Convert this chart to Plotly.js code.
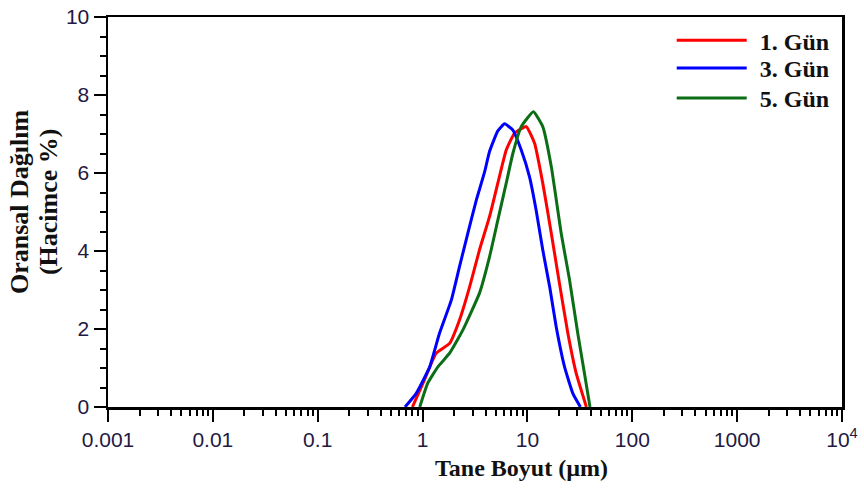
<!DOCTYPE html>
<html>
<head>
<meta charset="utf-8">
<script src="https://cdn.plot.ly/plotly-3.0.1.min.js"></script>
<style>html,body{margin:0;padding:0;background:#fff;}#chart{width:864px;height:492px;}</style>
</head>
<body>
<div id="chart"></div>
<script>
// Particle size (µm) and volume distribution (%) per day
const seriesNames = ['1. Gün', '3. Gün', '5. Gün'];

const day1Size = [0.80, 1.01, 1.35, 1.81, 2.25, 2.81, 3.49, 4.35, 5.22, 6.28, 7.54, 9.74, 11.7, 14.0, 16.9, 20.2, 24.3, 29.2, 36.5];
const day1Vol  = [0, 0.61, 1.38, 1.63, 2.23, 3.08, 4.03, 4.88, 5.74, 6.59, 7.02, 7.19, 6.76, 5.74, 4.45, 3.17, 1.89, 0.86, 0];

const day3Size = [0.68, 0.87, 1.17, 1.45, 1.88, 2.25, 2.70, 3.25, 3.90, 4.35, 5.22, 6.05, 7.26, 8.73, 10.47, 12.1, 14.0, 16.3, 18.8, 22.6, 27.1, 32.0];
const day3Vol  = [0, 0.35, 1.03, 1.89, 2.74, 3.60, 4.45, 5.30, 6.02, 6.55, 7.08, 7.26, 7.10, 6.59, 5.90, 5.05, 4.03, 3.08, 2.06, 1.03, 0.35, 0];

const day5Size = [0.94, 1.12, 1.40, 1.81, 2.42, 3.49, 4.35, 5.22, 6.28, 7.26, 8.73, 11.4, 14.0, 16.9, 21.0, 25.2, 30.2, 35.0, 39.5];
const day5Vol  = [0, 0.61, 1.03, 1.38, 1.97, 2.92, 3.85, 4.79, 5.74, 6.50, 7.19, 7.57, 7.19, 6.16, 4.45, 3.26, 1.89, 0.86, 0];

const xTickVals = [0.001, 0.01, 0.1, 1, 10, 100, 1000, 10000];
const xTickText = ['0.001', '0.01', '0.1', '1', '10', '100', '1000', '10<sup>4</sup>'];
const yTickVals = [0, 2, 4, 6, 8, 10];

const colors = ['#ff0000', '#0000ff', '#0b6e16'];
const legendIds = ['legend', 'legend2', 'legend3'];
const legendY = [0.9392, 0.8685, 0.7915];
const tickColor = '#231942';
const serif = '"Liberation Serif", "Times New Roman", serif';
const titleFont = {family: serif, size: 26, color: '#111111'};

function mk(x, y, i) {
  return {x: x, y: y, name: '<b>' + seriesNames[i] + '</b>', type: 'scatter', mode: 'lines',
          legend: legendIds[i],
          line: {color: colors[i], width: 3, shape: 'spline', smoothing: 0.4}};
}

const traces = [mk(day1Size, day1Vol, 0), mk(day3Size, day3Vol, 1), mk(day5Size, day5Vol, 2)];

const axisCommon = {
  showline: true, linecolor: '#000', linewidth: 2.5, mirror: true,
  ticks: 'outside', ticklen: 12, tickwidth: 2, tickcolor: '#000',
  showgrid: false, zeroline: false,
  tickfont: {family: '"Liberation Sans", Arial, sans-serif', size: 21, color: tickColor}
};

function legendCfg(i) {
  return {x: 0.768, xanchor: 'left', y: legendY[i], yanchor: 'middle', bgcolor: 'rgba(0,0,0,0)',
          itemwidth: 78, font: {family: serif, size: 24, color: '#111'}};
}

const layout = {
  width: 864, height: 492,
  margin: {l: 108, r: 22, t: 17, b: 85},
  paper_bgcolor: '#fff', plot_bgcolor: '#fff',
  showlegend: true,
  legend: legendCfg(0), legend2: legendCfg(1), legend3: legendCfg(2),
  xaxis: Object.assign({}, axisCommon, {
    type: 'log', range: [-3, 4], tickmode: 'array', tickvals: xTickVals, ticktext: xTickText,
    minor: {ticks: 'outside', ticklen: 6, tickwidth: 2, tickcolor: '#000', dtick: 'D1', showgrid: false}
  }),
  yaxis: Object.assign({}, axisCommon, {
    range: [0, 10], tickmode: 'array', tickvals: yTickVals,
    minor: {ticks: 'outside', ticklen: 6, tickwidth: 2, tickcolor: '#000', dtick: 0.5, showgrid: false}
  }),
  annotations: [
    {text: '<b>Tane Boyut (µm)</b>', xref: 'paper', yref: 'paper', x: 0.5627, y: -0.156,
     xanchor: 'center', yanchor: 'middle', showarrow: false, font: {family: serif, size: 24, color: '#111111'}},
    {text: '<b>Oransal Dağılım</b>', xref: 'paper', yref: 'paper', x: -0.1212, y: 0.5256,
     xanchor: 'center', yanchor: 'middle', textangle: -90, showarrow: false, font: titleFont},
    {text: '<b>(Hacimce %)</b>', xref: 'paper', yref: 'paper', x: -0.0817, y: 0.5256,
     xanchor: 'center', yanchor: 'middle', textangle: -90, showarrow: false, font: titleFont}
  ]
};

Plotly.newPlot('chart', traces, layout, {displayModeBar: false, staticPlot: true}).then(function (gd) {
  document.querySelectorAll('#chart .legendlines path').forEach(function (p) {
    p.setAttribute('d', 'M5,0h70');
  });
});
</script>
</body>
</html>
